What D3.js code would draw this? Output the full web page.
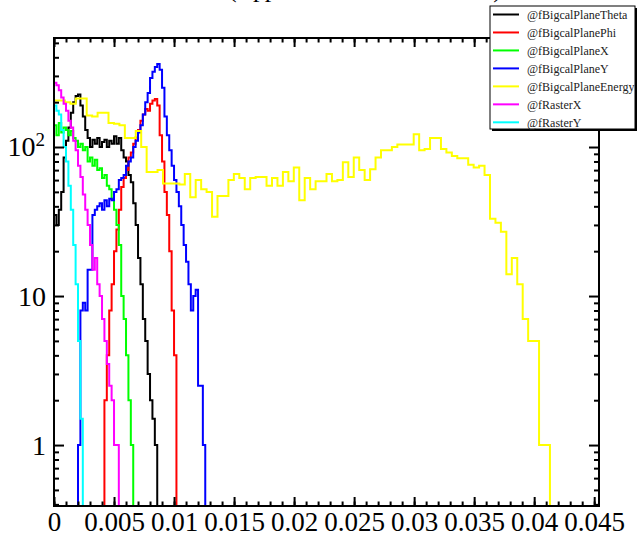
<!DOCTYPE html>
<html>
<head>
<meta charset="utf-8">
<script src="https://cdn.jsdelivr.net/npm/d3@7"></script>
<style>
  body { margin: 0; background: #fff; }
  svg { display: block; }
  text { font-family: "Liberation Serif", "Times New Roman", serif; }
</style>
</head>
<body>
<script>
  // histogram bin widths (x units)
  const xMax = 0.0454;
  const narrowBin = 0.0002;
  const energyBin = xMax / 100;

  const legendNames = ['@fBigcalPlaneTheta', '@fBigcalPlanePhi', '@fBigcalPlaneX',
    '@fBigcalPlaneY', '@fBigcalPlaneEnergy', '@fRasterX', '@fRasterY'];
  const colors = ['#000000', '#ff0000', '#00ff00', '#0000ff', '#ffff00', '#ff00ff', '#00ffff'];

  const xTicks = [0, 0.005, 0.01, 0.015, 0.02, 0.025, 0.03, 0.035, 0.04, 0.045];
  const xTickLabels = ['0', '0.005', '0.01', '0.015', '0.02', '0.025', '0.03', '0.035', '0.04', '0.045'];
  const yTicks = [1, 10, 100];

  // counts per bin, bins of narrowBin starting at 0
  const thetaCounts = [35, 30, 38, 50, 85, 110, 135, 170, 200, 220, 225, 190, 160, 130, 115,
    100, 112, 105, 115, 100, 108, 112, 100, 110, 105, 118, 105, 115, 95, 85, 80, 65, 58, 42,
    30, 18, 12, 7, 5, 3, 2, 1.5, 1];
  const phiCounts = [0, 0, 0, 0, 0, 0, 0, 0, 0, 0, 0, 0, 0, 0, 0, 0, 0, 0, 0, 0, 0,
    2, 4, 8, 12, 20, 28, 38, 54, 62, 70, 85, 92, 105, 116, 130, 150, 165, 180, 175, 195, 205,
    210, 190, 120, 80, 50, 35, 20, 8, 4];
  const planeXCounts = [140, 120, 145, 125, 135, 130, 120, 128, 115, 110, 100, 105, 95, 100,
    80, 85, 75, 82, 70, 72, 62, 65, 55, 52, 45, 38, 30, 22, 10, 7, 4, 2, 1];
  const planeYCounts = [0, 0, 0, 0, 0, 0, 0, 0, 0, 0, 1, 8, 9, 8, 15, 15, 35, 38, 40, 42, 38,
    44, 40, 45, 44, 50, 52, 60, 62, 65, 75, 80, 85, 100, 110, 125, 140, 165, 200, 230, 290,
    320, 345, 360, 330, 250, 160, 120, 95, 75, 60, 50, 40, 30, 22, 17, 12, 8, 10, 11, 2.5,
    2.5, 1];
  const rasterXCounts = [270, 260, 240, 215, 195, 175, 150, 135, 110, 95, 75, 63, 48, 38, 30,
    22, 15, 18, 12, 10, 7, 5, 3.5, 2.5, 2, 1, 1];
  const rasterYCounts = [190, 175, 165, 130, 100, 80, 55, 38, 22, 12, 5, 1.5];
  // bins of energyBin starting at 0
  const energyCounts = [205, 205, 200, 195, 212, 212, 163, 160, 170, 170, 145, 143, 140, 115,
    115, 128, 100, 68, 68, 70, 57, 57, 57, 56, 66, 46, 60, 52, 50, 34, 47, 47, 60, 66, 62, 52,
    62, 63, 63, 55, 62, 55, 68, 59, 73, 44, 62, 52, 59, 59, 66, 59, 60, 79, 63, 85, 70, 60, 71,
    85, 95, 95, 100, 104, 104, 104, 122, 95, 97, 115, 115, 97, 92, 87, 84, 84, 76, 73, 75, 65,
    33, 31, 27, 14, 18, 12, 7, 5, 5, 1, 1];

  const series = [
    { counts: thetaCounts, bin: narrowBin },
    { counts: phiCounts, bin: narrowBin },
    { counts: planeXCounts, bin: narrowBin },
    { counts: planeYCounts, bin: narrowBin },
    { counts: energyCounts, bin: energyBin },
    { counts: rasterXCounts, bin: narrowBin },
    { counts: rasterYCounts, bin: narrowBin },
  ].map((s, i) => Object.assign(s, { key: legendNames[i], color: colors[i] }));

  const width = 637;
  const height = 538;
  const frame = { left: 54, right: 599, top: 38, bottom: 506 };
  const yMin = 0.39;
  const yMax = 539;

  const xScale = d3.scaleLinear().domain([0, xMax]).range([frame.left, frame.right]);
  const yScale = d3.scaleLog().domain([yMin, yMax]).range([frame.bottom, frame.top]);

  const svg = d3.select('body').append('svg')
    .attr('width', width)
    .attr('height', height);

  // title: in the reference it sits above the canvas, only its lowest strokes show
  svg.append('text')
    .attr('x', 365)
    .attr('y', -3)
    .attr('text-anchor', 'middle')
    .attr('font-size', 26)
    .attr('textLength', 274)
    .text('(Upper BETA Detector Data)');

  svg.append('clipPath').attr('id', 'frame-clip')
    .append('rect')
    .attr('x', frame.left).attr('y', frame.top)
    .attr('width', frame.right - frame.left)
    .attr('height', frame.bottom - frame.top);

  const yOf = (c) => (c > 0 ? yScale(c) : frame.bottom + 5);

  const histPath = ({ counts, bin }) => {
    const pts = [[xScale(0), frame.bottom + 5]];
    counts.forEach((c, i) => {
      pts.push([xScale(i * bin), yOf(c)]);
      pts.push([xScale((i + 1) * bin), yOf(c)]);
    });
    pts.push([xScale(counts.length * bin), frame.bottom + 5]);
    return d3.line()(pts);
  };

  svg.append('g')
    .attr('clip-path', 'url(#frame-clip)')
    .selectAll('path')
    .data(series)
    .enter()
    .append('path')
    .attr('d', histPath)
    .attr('fill', 'none')
    .attr('stroke', (d) => d.color)
    .attr('stroke-width', 2);

  // axes: ticks inside on all four sides
  const minorX = d3.range(0, 46).map((i) => i * 0.001).filter((v) => v <= xMax);
  const minorY = [];
  [0.1, 1, 10, 100].forEach((p) => {
    for (let k = 2; k <= 9; k++) {
      const v = p * k;
      if (v >= yMin && v <= yMax) minorY.push(v);
    }
  });

  const axisG = svg.append('g').attr('stroke-width', 2);

  const bottomAxis = axisG.append('g')
    .attr('transform', `translate(0,${frame.bottom})`)
    .call(d3.axisBottom(xScale).tickValues(xTicks).tickSize(-9).tickSizeOuter(0)
      .tickPadding(6).tickFormat((d, i) => xTickLabels[i]));
  axisG.append('g')
    .attr('transform', `translate(0,${frame.bottom})`)
    .call(d3.axisBottom(xScale).tickValues(minorX).tickSize(-4.5).tickFormat(''));
  axisG.append('g')
    .attr('transform', `translate(0,${frame.top})`)
    .call(d3.axisTop(xScale).tickValues(xTicks).tickSize(-9).tickFormat(''));
  axisG.append('g')
    .attr('transform', `translate(0,${frame.top})`)
    .call(d3.axisTop(xScale).tickValues(minorX).tickSize(-4.5).tickFormat(''));

  const left = axisG.append('g')
    .attr('transform', `translate(${frame.left},0)`)
    .call(d3.axisLeft(yScale).tickValues(yTicks).tickSize(-10).tickPadding(8)
      .tickFormat((d) => (d === 100 ? '10' : String(d))));
  axisG.append('g')
    .attr('transform', `translate(${frame.left},0)`)
    .call(d3.axisLeft(yScale).tickValues(minorY).tickSize(-5).tickFormat(''));
  axisG.append('g')
    .attr('transform', `translate(${frame.right},0)`)
    .call(d3.axisRight(yScale).tickValues(yTicks).tickSize(-10).tickFormat(''));
  axisG.append('g')
    .attr('transform', `translate(${frame.right},0)`)
    .call(d3.axisRight(yScale).tickValues(minorY).tickSize(-5).tickFormat(''));

  axisG.selectAll('.domain').remove();
  axisG.selectAll('line').attr('stroke', '#000').attr('stroke-width', 2);
  axisG.selectAll('text')
    .attr('font-family', '"Liberation Serif", serif')
    .attr('font-size', 28)
    .attr('fill', '#000');
  bottomAxis.selectAll('text').attr('font-size', 27);

  // 10^2 exponent
  left.selectAll('.tick')
    .filter((d) => d === 100)
    .select('text')
    .attr('x', -9)
    .append('tspan')
    .attr('font-size', 19)
    .attr('dy', '-0.55em')
    .text('2');

  svg.append('rect')
    .attr('x', frame.left).attr('y', frame.top)
    .attr('width', frame.right - frame.left)
    .attr('height', frame.bottom - frame.top)
    .attr('fill', 'none')
    .attr('stroke', '#000')
    .attr('stroke-width', 2);

  // legend
  const leg = { x: 490, y: 6, w: 145, h: 123, row: 17.97 };
  const legend = svg.append('g');
  legend.append('rect')
    .attr('x', leg.x + 2).attr('y', leg.y + 2)
    .attr('width', leg.w).attr('height', leg.h)
    .attr('fill', '#000');
  legend.append('rect')
    .attr('x', leg.x).attr('y', leg.y)
    .attr('width', leg.w).attr('height', leg.h)
    .attr('fill', '#fff')
    .attr('stroke', '#000')
    .attr('stroke-width', 1);

  const rows = legend.selectAll('g.row')
    .data(series)
    .enter()
    .append('g')
    .attr('class', 'row')
    .attr('transform', (d, i) => `translate(${leg.x},${leg.y + 8.5 + i * leg.row})`);
  rows.append('line')
    .attr('x1', 3).attr('x2', 29)
    .attr('stroke', (d) => d.color)
    .attr('stroke-width', 2);
  rows.append('text')
    .attr('x', 37)
    .attr('dy', '0.35em')
    .attr('font-size', 12)
    .attr('fill', '#222')
    .text((d) => d.key);
</script>
</body>
</html>
